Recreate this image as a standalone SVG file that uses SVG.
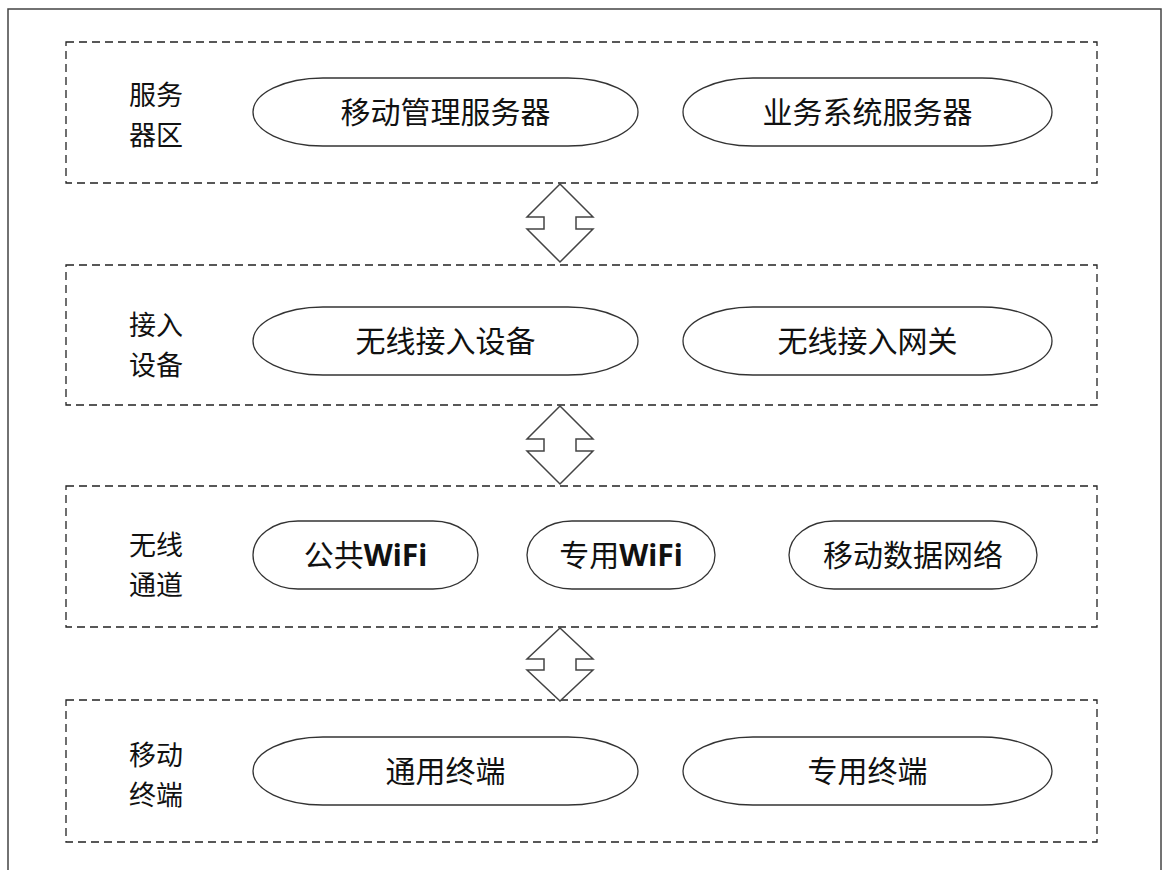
<svg xmlns="http://www.w3.org/2000/svg" width="1163" height="870" viewBox="0 0 1163 870">
<style>
.frame{fill:none;stroke:#444;stroke-width:1.5}
.zone{fill:none;stroke:#222;stroke-width:1.3;stroke-dasharray:8 5}
.node{fill:#fff;stroke:#333;stroke-width:1.3}
.lbl{font-family:"Noto Sans CJK SC","Noto Sans",sans-serif;font-size:27px;fill:#111}
.txt{font-family:"Noto Sans CJK SC","Noto Sans",sans-serif;font-size:30px;fill:#111;text-anchor:middle}
.en{font-family:"Noto Sans","Open Sans",sans-serif;font-weight:bold}
.arr{fill:#fff;stroke:#444;stroke-width:1.5;stroke-linejoin:miter}
</style>
<rect width="1163" height="870" fill="#fff"/>
<rect class="frame" x="8" y="9" width="1153" height="900"/>

<g id="zone-server">
<rect class="zone" x="66" y="42" width="1031" height="141"/>
<text class="lbl" x="129" y="105">服务<tspan x="129" dy="39.5">器区</tspan></text>
</g>
<g id="node-mdm">
<rect class="node" x="253" y="78" width="385" height="68" rx="70" ry="34"/>
<text class="txt" x="445.500" y="123">移动管理服务器</text>
</g>
<g id="node-biz">
<rect class="node" x="683" y="78" width="369" height="68" rx="70" ry="34"/>
<text class="txt" x="867.500" y="123">业务系统服务器</text>
</g>

<g id="zone-access">
<rect class="zone" x="66" y="265" width="1031" height="140"/>
<text class="lbl" x="129" y="335">接入<tspan x="129" dy="39.5">设备</tspan></text>
</g>
<g id="node-ap">
<rect class="node" x="253" y="307" width="385" height="68" rx="70" ry="34"/>
<text class="txt" x="445.500" y="352">无线接入设备</text>
</g>
<g id="node-gw">
<rect class="node" x="683" y="307" width="369" height="68" rx="70" ry="34"/>
<text class="txt" x="867.500" y="352">无线接入网关</text>
</g>

<g id="zone-channel">
<rect class="zone" x="66" y="486" width="1031" height="141"/>
<text class="lbl" x="129" y="555">无线<tspan x="129" dy="39.5">通道</tspan></text>
</g>
<g id="node-pubwifi">
<rect class="node" x="253" y="521" width="225" height="68" rx="45" ry="34"/>
<text class="txt" x="365.500" y="566">公共<tspan class="en">WiFi</tspan></text>
</g>
<g id="node-prvwifi">
<rect class="node" x="527" y="521" width="188" height="68" rx="45" ry="34"/>
<text class="txt" x="621" y="566">专用<tspan class="en">WiFi</tspan></text>
</g>
<g id="node-mobile">
<rect class="node" x="789" y="521" width="248" height="68" rx="45" ry="34"/>
<text class="txt" x="913" y="566">移动数据网络</text>
</g>

<g id="zone-terminal">
<rect class="zone" x="66" y="700" width="1031" height="142"/>
<text class="lbl" x="129" y="765">移动<tspan x="129" dy="39.5">终端</tspan></text>
</g>
<g id="node-general">
<rect class="node" x="253" y="737" width="385" height="68" rx="70" ry="34"/>
<text class="txt" x="445.500" y="782">通用终端</text>
</g>
<g id="node-special">
<rect class="node" x="683" y="737" width="369" height="68" rx="70" ry="34"/>
<text class="txt" x="867.500" y="782">专用终端</text>
</g>

<g id="connectors">
<polygon class="arr" points="560,184 593,217 576,217 576,229 593,229 560,262 527,229 544,229 544,217 527,217"/>
<polygon class="arr" points="560,406 593,439 576,439 576,451 593,451 560,484 527,451 544,451 544,439 527,439"/>
<polygon class="arr" points="560,628 593,659 576,659 576,670 593,670 560,701 527,670 544,670 544,659 527,659"/>
</g>
</svg>
